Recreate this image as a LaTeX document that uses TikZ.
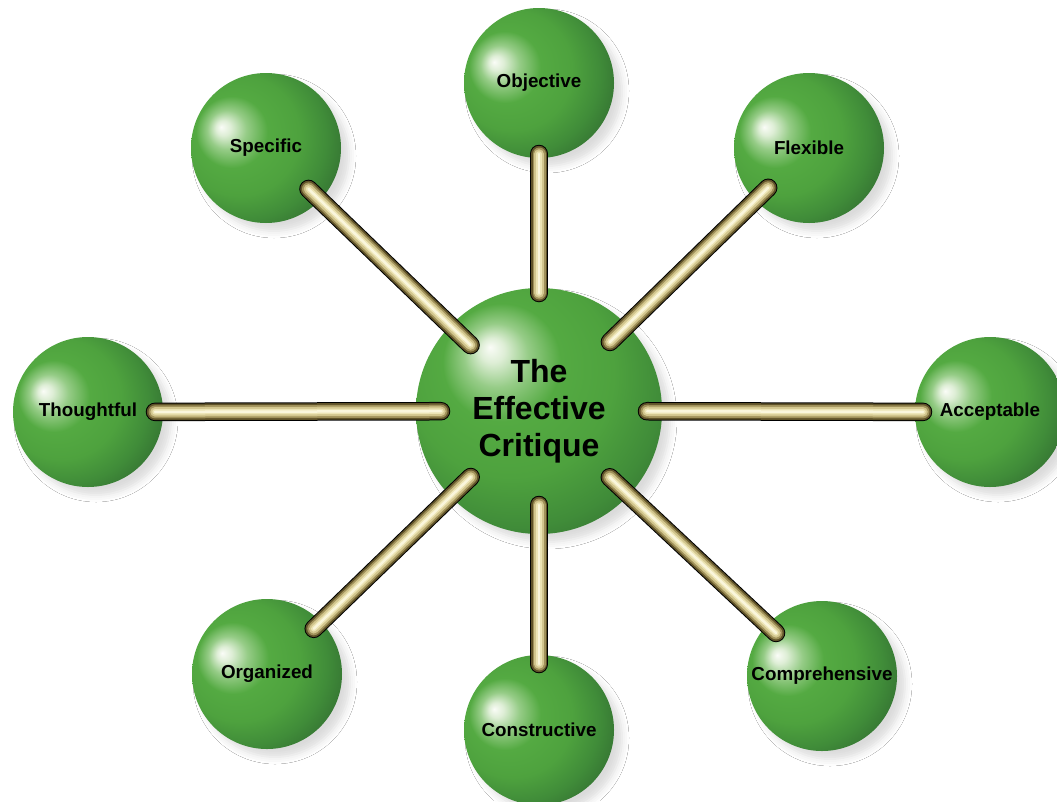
\documentclass[tikz,border=0pt]{standalone}
\usepackage{fontspec}
\setmainfont{Liberation Sans}
\usetikzlibrary{calc,shadows.blur}
\definecolor{gHi}{RGB}{250,252,247}
\definecolor{gHi2}{RGB}{222,238,214}
\definecolor{gLt}{RGB}{150,204,135}
\definecolor{gMid}{RGB}{84,170,66}
\definecolor{gMidB}{RGB}{78,162,62}
\definecolor{gDk}{RGB}{64,140,57}
\definecolor{gDkr}{RGB}{52,114,50}
\definecolor{rodB}{RGB}{95,82,40}
\definecolor{rodC}{RGB}{160,145,90}
\definecolor{rodD}{RGB}{210,198,142}
\definecolor{rodE}{RGB}{236,228,180}
\definecolor{rodF}{RGB}{250,246,220}
\pgfdeclareradialshading{sphereA}{\pgfqpoint{-15bp}{7bp}}{color(0bp)=(gHi); color(2.5bp)=(gHi2); color(6.5bp)=(gLt); color(12bp)=(gMid); color(20bp)=(gMidB); color(27bp)=(gDk); color(33bp)=(gDkr); color(50bp)=(gDkr)}
\pgfdeclareradialshading{sphereB}{\pgfqpoint{-10bp}{13bp}}{color(0bp)=(gHi); color(2.5bp)=(gHi2); color(6.5bp)=(gLt); color(12bp)=(gMid); color(21bp)=(gMidB); color(29bp)=(gDk); color(35bp)=(gDkr); color(50bp)=(gDkr)}
\newcommand{\rodlink}[4]{%
  \foreach \w/\c in {18.5/black,16.5/rodB,13/rodC,9.5/rodD,5.5/rodE,2.5/rodF}
    \draw[rodline, line width=\w pt, draw=\c] ($(#1)!#2pt!(#3)$) -- ($(#3)!#4pt!(#1)$);}
\begin{document}
\begin{tikzpicture}[x=1pt,y=-1pt,
  ball/.style={circle, minimum size=150pt, inner sep=0pt, shading=sphereA,
    blur shadow={shadow xshift=8pt, shadow yshift=-8pt, shadow blur radius=7pt, shadow opacity=14},
    font=\fontsize{18.8}{20}\selectfont\bfseries, text=black},
  bigball/.style={ball, minimum size=246pt, shading=sphereB, align=center,
    font=\fontsize{32}{37}\selectfont\bfseries},
  rodline/.style={line cap=round}
]
\useasboundingbox[fill=white] (0,0) rectangle (1057,801);
\node[bigball] (center) at (539,411) {The\\Effective\\Critique};
\node[ball] (obj) at (539,83) {Objective};
\node[ball] (spec) at (266,148) {Specific};
\node[ball] (flex) at (809,148) {Flexible};
\node[ball] (thought) at (88,412) {Thoughtful};
\node[ball] (accept) at (990,412) {Acceptable};
\node[ball] (org) at (267,674) {Organized};
\node[ball] (constr) at (539,730) {Constructive};
\node[ball] (comp) at (822,676) {Comprehensive};
\rodlink{center}{118}{obj}{71}
\rodlink{center}{95}{spec}{59}
\rodlink{center}{99}{flex}{57}
\rodlink{center}{98}{thought}{67}
\rodlink{center}{108}{accept}{67}
\rodlink{center}{95}{org}{65}
\rodlink{center}{94}{constr}{66}
\rodlink{center}{97}{comp}{63}
\end{tikzpicture}
\end{document}
